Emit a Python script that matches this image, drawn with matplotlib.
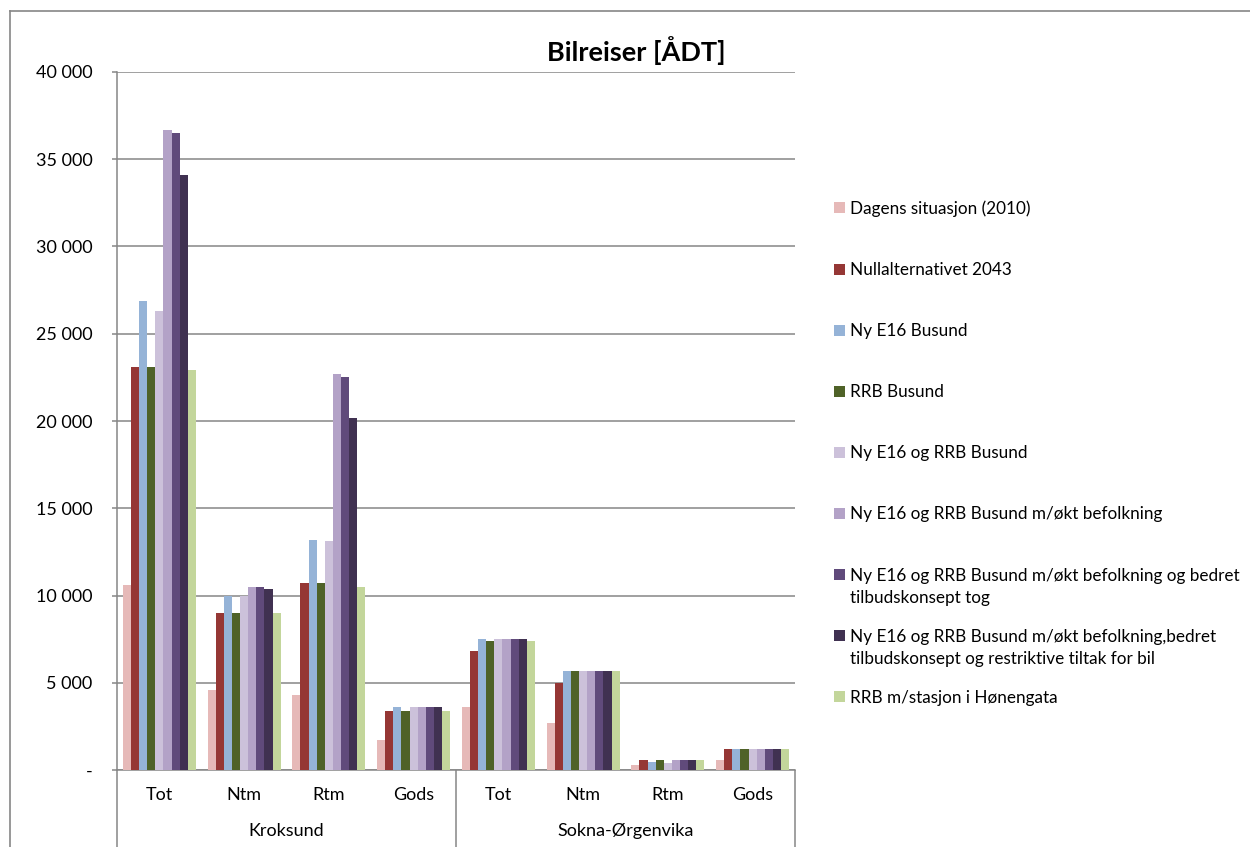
import matplotlib
matplotlib.use("Agg")
import matplotlib.pyplot as plt
import numpy as np
from matplotlib.lines import Line2D
from matplotlib.patches import Rectangle
from matplotlib.ticker import FuncFormatter

plt.rcParams['font.family'] = ['Lato', 'DejaVu Sans']

# ---- data ----
groups = ["Kroksund", "Sokna-Ørgenvika"]
subcats = ["Tot", "Ntm", "Rtm", "Gods"]
series_names = [
    "Dagens situasjon (2010)",
    "Nullalternativet 2043",
    "Ny E16 Busund",
    "RRB Busund",
    "Ny E16 og RRB Busund",
    "Ny E16 og RRB Busund m/økt befolkning",
    "Ny E16 og RRB Busund m/økt befolkning og bedret\ntilbudskonsept tog",
    "Ny E16 og RRB Busund m/økt befolkning,bedret\ntilbudskonsept og restriktive tiltak for bil",
    "RRB m/stasjon i Hønengata",
]
colors = ["#E6B9B8", "#953735", "#95B3D7", "#4F6228", "#CCC1DA",
          "#B3A2C7", "#604A7B", "#403151", "#C3D69B"]

# values per series, categories: Kroksund Tot,Ntm,Rtm,Gods, Sokna Tot,Ntm,Rtm,Gods
dagens        = [10600, 4600, 4300, 1700, 3600, 2700, 300, 600]
null2043      = [23100, 9000, 10700, 3400, 6800, 5000, 600, 1200]
ny_e16        = [26900, 10000, 13200, 3600, 7500, 5700, 450, 1200]
rrb           = [23100, 9000, 10700, 3400, 7400, 5700, 600, 1200]
e16_rrb       = [26300, 10000, 13100, 3600, 7500, 5700, 400, 1200]
e16_rrb_bef   = [36700, 10500, 22700, 3600, 7500, 5700, 600, 1200]
e16_rrb_tog   = [36500, 10500, 22500, 3600, 7500, 5700, 600, 1200]
e16_rrb_restr = [34100, 10400, 20200, 3600, 7500, 5700, 600, 1200]
rrb_honen     = [22900, 9000, 10500, 3400, 7400, 5700, 600, 1200]

all_series = [dagens, null2043, ny_e16, rrb, e16_rrb, e16_rrb_bef,
              e16_rrb_tog, e16_rrb_restr, rrb_honen]

W, H = 1250, 847
fig = plt.figure(figsize=(W / 100, H / 100), dpi=100)
ax = fig.add_axes([117 / W, 77 / H, 678 / W, 698 / H])

grid_c = "#868686"
ncat = len(groups) * len(subcats)
x = np.arange(ncat)
n = len(all_series)
bw = 0.0957
for i, (vals, c, name) in enumerate(zip(all_series, colors, series_names)):
    ax.bar(x + (i - (n - 1) / 2) * bw, vals, width=bw, color=c,
           edgecolor='none', zorder=3)

ax.set_xlim(-0.5, ncat - 0.5)
ax.set_ylim(0, 40000)
ax.set_yticks(np.arange(0, 40001, 5000))
ax.yaxis.set_major_formatter(FuncFormatter(
    lambda v, p: "-" if v == 0 else f"{int(v):,}".replace(",", " ")))
ax.grid(axis='y', color=grid_c, linewidth=1.1, zorder=0)
ax.set_axisbelow(True)
for s in ['top', 'right']:
    ax.spines[s].set_visible(False)
for s in ['left', 'bottom']:
    ax.spines[s].set_color(grid_c)
    ax.spines[s].set_linewidth(1.1)
ax.tick_params(axis='y', length=3.6, width=1.1, color=grid_c, pad=14,
               labelsize=13, labelcolor='black')

ax.set_xticks(x)
ax.set_xticklabels(subcats * len(groups))
ax.tick_params(axis='x', which='major', length=0, pad=12, labelsize=13)
ax.set_xticks([-0.5, 3.5, 7.5], minor=True)
ax.tick_params(axis='x', which='minor', length=60, width=1.1, color=grid_c)

for gi, g in enumerate(groups):
    ax.annotate(g, xy=(gi * 4 + 1.5, 0), xycoords=('data', 'axes fraction'),
                xytext=(0, -61 * 0.72), textcoords='offset points',
                ha='center', va='center', fontsize=13)

# chart frame
fig.add_artist(Line2D([10 / W, 10 / W], [0, 1 - 11 / H], transform=fig.transFigure,
                      color=grid_c, lw=1.2))
fig.add_artist(Line2D([10 / W, 1], [1 - 11 / H, 1 - 11 / H], transform=fig.transFigure,
                      color=grid_c, lw=1.2))

fig.text(636 / W, 1 - 51 / H, "Bilreiser [ÅDT]", ha='center', va='center',
         fontsize=19.5, fontweight='bold')

# legend (manual, evenly spaced like the original)
for i, (name, c) in enumerate(zip(series_names, colors)):
    yc = 208 + i * 61.1
    fig.add_artist(Rectangle((834 / W, 1 - (yc + 5.5) / H), 11 / W, 11 / H,
                             transform=fig.transFigure, facecolor=c,
                             edgecolor='none'))
    for k, line in enumerate(name.split("\n")):
        fig.text(850 / W, 1 - (yc + 6 + k * 22) / H, line, ha='left',
                 va='baseline', fontsize=12.3)

fig.savefig("out.png", dpi=100)
